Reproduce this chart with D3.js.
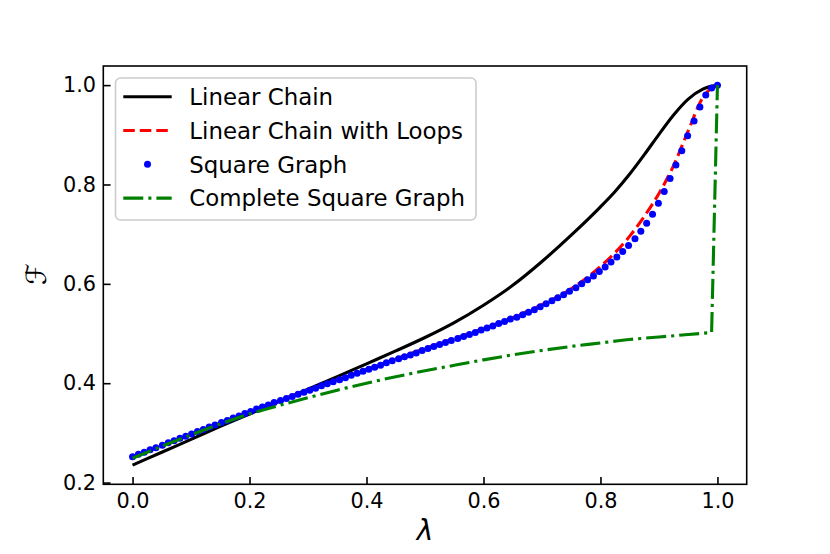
<!DOCTYPE html>
<html><head><meta charset="utf-8">
<script src="https://cdn.jsdelivr.net/npm/d3@7"></script>
<style>body{margin:0;background:#fff}svg{display:block}text{font-family:"DejaVu Sans",sans-serif}</style>
</head><body>
<svg id="c" width="830" height="554"></svg>
<script>
// ---- data ----
const xTicks = [0.0, 0.2, 0.4, 0.6, 0.8, 1.0];
const yTicks = [0.2, 0.4, 0.6, 0.8, 1.0];
const seriesNames = ["Linear Chain", "Linear Chain with Loops", "Square Graph", "Complete Square Graph"];

const chainLam = [0,0.05,0.1,0.15,0.2,0.25,0.3,0.35,0.4,0.45,0.5,0.55,0.6,0.65,0.7,0.75,0.8,0.825,0.85,0.875,0.9,0.925,0.95,0.975,1.0];
const chainF   = [0.235,0.261,0.287,0.313,0.338,0.363,0.388,0.413,0.439,0.465,0.492,0.522,0.557,0.597,0.645,0.698,0.755,0.786,0.821,0.860,0.901,0.940,0.972,0.992,1.0];

const loopsLam = [0,0.05,0.1,0.15,0.2,0.25,0.3,0.35,0.4,0.45,0.5,0.55,0.6,0.65,0.7,0.75,0.8,0.825,0.85,0.875,0.9,0.925,0.95,0.975,0.99,1.0];
const loopsF   = [0.251,0.274,0.297,0.320,0.343,0.365,0.386,0.407,0.428,0.449,0.470,0.490,0.510,0.532,0.558,0.590,0.635,0.663,0.696,0.736,0.782,0.838,0.908,0.975,0.994,1.0];

const squareLam = [0,.010,.020,.030,.040,.051,.061,.071,.081,.091,
 .101,.111,.121,.131,.141,.152,.162,.172,.182,.192,
 .202,.212,.222,.232,.242,.253,.263,.273,.283,.293,
 .303,.313,.323,.333,.343,.354,.364,.374,.384,.394,
 .404,.414,.424,.434,.444,.455,.465,.475,.485,.495,
 .505,.515,.525,.535,.545,.556,.566,.576,.586,.596,
 .606,.616,.626,.636,.646,.657,.667,.677,.687,.697,
 .707,.717,.727,.737,.747,.758,.768,.778,.788,.798,
 .808,.818,.828,.838,.848,.859,.869,.879,.889,.899,
 .909,.919,.929,.939,.949,.960,.970,.980,.990,1.0];
const squareF = [0.252,0.257,0.261,0.266,0.270,0.275,0.280,0.284,0.289,0.293,
 0.298,0.303,0.307,0.312,0.316,0.321,0.325,0.330,0.334,0.339,
 0.343,0.348,0.352,0.356,0.361,0.365,0.369,0.373,0.378,0.382,
 0.386,0.390,0.395,0.399,0.403,0.407,0.411,0.416,0.420,0.424,
 0.428,0.432,0.436,0.441,0.445,0.449,0.453,0.457,0.461,0.466,
 0.470,0.474,0.478,0.482,0.486,0.490,0.494,0.498,0.502,0.507,
 0.511,0.515,0.520,0.524,0.529,0.533,0.538,0.543,0.548,0.554,
 0.560,0.566,0.572,0.578,0.585,0.592,0.600,0.608,0.616,0.625,
 0.634,0.644,0.654,0.665,0.677,0.691,0.706,0.722,0.740,0.762,
 0.786,0.812,0.839,0.868,0.898,0.928,0.956,0.980,0.994,1.000];

const completeLam = [0,0.05,0.1,0.15,0.2,0.25,0.3,0.35,0.4,0.45,0.5,0.55,0.6,0.65,0.7,0.75,0.8,0.85,0.9,0.95,0.99,1.0];
const completeF   = [0.249,0.273,0.296,0.318,0.338,0.355,0.371,0.386,0.400,0.413,0.425,0.436,0.447,0.457,0.466,0.474,0.481,0.488,0.493,0.498,0.502,1.0];

// ---- layout ----
const svg = d3.select("#c");
const L = 103.3, R = 746.7, T = 66, B = 484.3;
const x = d3.scaleLinear().domain([-0.05, 1.05]).range([L, R]);
const y = d3.scaleLinear().domain([0.1965, 1.0385]).range([B, T]);
const lw = 3.1;

const g = svg.append("g");
svg.append("clipPath").attr("id","pc").append("rect").attr("x",L).attr("y",T).attr("width",R-L).attr("height",B-T);

function zip(a,b){ return a.map((v,i)=>[v,b[i]]); }
const smooth = d3.line().x(d=>x(d[0])).y(d=>y(d[1])).curve(d3.curveMonotoneX);

const plot = g.append("g").attr("clip-path","url(#pc)");
plot.append("path").attr("d", smooth(zip(chainLam, chainF)))
  .attr("fill","none").attr("stroke","#000").attr("stroke-width",lw);
plot.append("path").attr("d", smooth(zip(loopsLam, loopsF)))
  .attr("fill","none").attr("stroke","#ff0000").attr("stroke-width",lw)
  .attr("stroke-dasharray","11.5,5");
plot.selectAll("circle.sq").data(zip(squareLam, squareF)).join("circle")
  .attr("class","sq").attr("cx",d=>x(d[0])).attr("cy",d=>y(d[1])).attr("r",3.5).attr("fill","#0000ff");
const compPts = zip(completeLam, completeF);
const lastPt = compPts[compPts.length-1];
plot.append("path").attr("d", smooth(compPts.slice(0, compPts.length-1)) + "L" + x(lastPt[0]) + "," + y(lastPt[1]))
  .attr("fill","none").attr("stroke","#008000").attr("stroke-width",lw)
  .attr("stroke-dasharray","20,5,3.1,5");

// ---- axes ----
const fs = 20.8;
const xa = g.append("g").attr("transform",`translate(0,${B})`)
  .call(d3.axisBottom(x).tickValues(xTicks).tickFormat(d3.format(".1f")).tickSize(-7.3).tickPadding(9));
const ya = g.append("g").attr("transform",`translate(${L},0)`)
  .call(d3.axisLeft(y).tickValues(yTicks).tickFormat(d3.format(".1f")).tickSize(-7.3).tickPadding(7.3));
[xa,ya].forEach(a=>{
  a.select(".domain").remove();
  a.selectAll(".tick line").attr("stroke","#000").attr("stroke-width",1.6);
  a.selectAll(".tick text").attr("fill","#000").style("font-size",fs+"px").style("font-family","DejaVu Sans");
});
g.append("rect").attr("x",L).attr("y",T).attr("width",R-L).attr("height",B-T)
  .attr("fill","none").attr("stroke","#000").attr("stroke-width",1.6);

// axis labels
svg.append("text").attr("x",425).attr("y",540).attr("text-anchor","middle")
  .style("font-size","28px").style("font-style","italic").text("λ");
svg.append("text").attr("transform","translate(46,274) rotate(-90)").attr("text-anchor","middle")
  .style("font-size","28px").text("ℱ");

// ---- legend ----
const lg = svg.append("g");
lg.append("rect").attr("x",115.5).attr("y",78).attr("width",360.5).attr("height",142).attr("rx",5)
  .attr("fill","#fff").attr("fill-opacity",0.8).attr("stroke","#cccccc").attr("stroke-width",1.6);
const rowY = [96.7, 130.5, 164.3, 198.1];
const styles = [
  {stroke:"#000", dash:null},
  {stroke:"#ff0000", dash:"11.5,5"},
  {dot:true},
  {stroke:"#008000", dash:"20,5,3.1,5"}
];
seriesNames.forEach((name,i)=>{
  const s = styles[i];
  if (s.dot) {
    lg.append("circle").attr("cx",147.5).attr("cy",rowY[i]).attr("r",3.5).attr("fill","#0000ff");
  } else {
    lg.append("line").attr("x1",123.3).attr("x2",171.7).attr("y1",rowY[i]).attr("y2",rowY[i])
      .attr("stroke",s.stroke).attr("stroke-width",lw).attr("stroke-dasharray",s.dash);
  }
  lg.append("text").attr("x",189.3).attr("y",rowY[i]).attr("dy","0.36em")
    .style("font-size","22.9px").attr("fill","#000").text(name);
});
</script>
</body></html>
